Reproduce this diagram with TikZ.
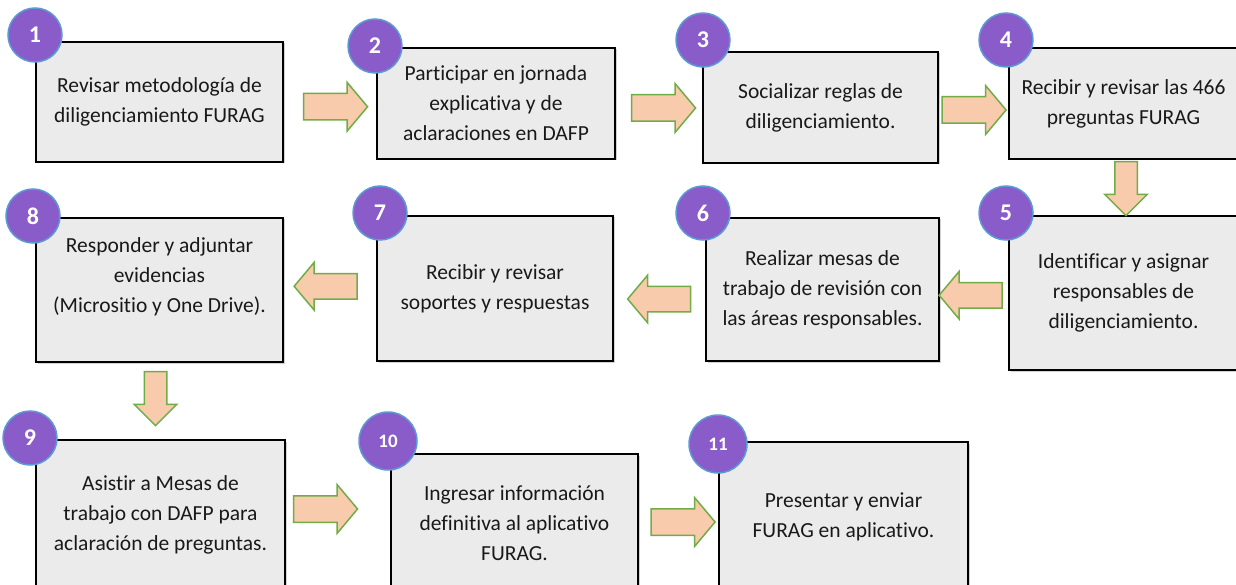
\documentclass[tikz,border=0pt]{standalone}
\usepackage{fontspec}
\setmainfont{Carlito}[Ligatures=NoCommon]
\usepackage{tikz}
\usetikzlibrary{shapes.arrows, shadows, calc}
\definecolor{boxgray}{HTML}{EBEBEB}
\definecolor{numpurple}{HTML}{8A5CC9}
\definecolor{ringblue}{HTML}{5B9BD5}
\definecolor{arrowfill}{HTML}{F8CBAD}
\definecolor{arrowline}{HTML}{70AD47}
\tikzstyle{stepbox} = [rectangle, draw=black, line width=1.2pt, fill=boxgray, align=center, text=black!90, font=\fontsize{21.5}{30}\selectfont, drop shadow={shadow xshift=1.5pt, shadow yshift=-1.5pt, opacity=0.35}]
\tikzstyle{number} = [circle, fill=numpurple, draw=ringblue, line width=1.5pt, text=white, inner sep=0pt, minimum size=54pt, font=\bfseries\fontsize{24}{24}\selectfont]
\tikzstyle{bignumber} = [number, minimum size=58pt, font=\bfseries\fontsize{19}{19}\selectfont]
\tikzstyle{rightarrow} = [single arrow, draw=arrowline, fill=arrowfill, line width=1.5pt, inner xsep=0pt, inner ysep=12.5pt, minimum height=64pt, single arrow head extend=11pt, single arrow tip angle=100]
\tikzstyle{leftarrow} = [rightarrow, shape border rotate=180, inner ysep=12pt, minimum height=63pt]
\tikzstyle{downarrow} = [rightarrow, rotate=-90, inner ysep=10.5pt, minimum height=54pt, single arrow head extend=10pt, single arrow tip angle=90]

\begin{document}
\begin{tikzpicture}[x=1pt, y=-1pt]
\useasboundingbox (0,0) rectangle (1236,585);
\fill[white] (0,0) rectangle (1236,585);
\clip (0,0) rectangle (1236,585);

% Steps
\node (b1) [stepbox, minimum width=247pt, minimum height=120pt] at (159.5,102) {Revisar metodología de\\diligenciamiento FURAG};
\node (b2) [stepbox, minimum width=238pt, minimum height=111pt] at (496,103.5) {Participar en jornada\\explicativa y de\\aclaraciones en DAFP};
\node (b3) [stepbox, minimum width=235pt, minimum height=111pt] at (820.5,107.5) {Socializar reglas de\\diligenciamiento.};
\node (b4) [stepbox, minimum width=229pt, minimum height=111pt] at (1123.5,103.5) {Recibir y revisar las 466\\preguntas FURAG};
\node (b5) [stepbox, minimum width=229pt, minimum height=154pt] at (1123.5,293) {Identificar y asignar\\responsables de\\diligenciamiento.};
\node (b6) [stepbox, minimum width=233pt, minimum height=143pt] at (822.5,289.5) {Realizar mesas de\\trabajo de revisión con\\las áreas responsables.};
\node (b7) [stepbox, minimum width=236pt, minimum height=145pt] at (495,288.5) {Recibir y revisar\\soportes y respuestas};
\node (b8) [stepbox, minimum width=247pt, minimum height=144pt] at (159.5,290) {Responder y adjuntar\\evidencias\\(Micrositio y One Drive).\\\mbox{}};
\node (b9) [stepbox, minimum width=249pt, minimum height=150pt] at (160.5,515) {Asistir a Mesas de\\trabajo con DAFP para\\aclaración de preguntas.};
\node (b10) [stepbox, minimum width=247pt, minimum height=138pt] at (514.5,523) {Ingresar información\\definitiva al aplicativo\\FURAG.};
\node (b11) [stepbox, minimum width=249pt, minimum height=150pt] at (843.5,517) {Presentar y enviar\\FURAG en aplicativo.};

% Numbers
\node (n1) [number] at (35,35) {1};
\node (n2) [number] at (375,46) {2};
\node (n3) [number] at (703,40) {3};
\node (n4) [number] at (1006,40) {4};
\node (n5) [number] at (1006,213) {5};
\node (n6) [number] at (703,213) {6};
\node (n7) [number] at (380,213) {7};
\node (n8) [number] at (33,216) {8};
\node (n9) [number] at (30,438) {9};
\node (n10) [bignumber] at (388,441) {10};
\node (n11) [bignumber] at (718,444) {11};

% Block arrows between the steps
\node (a12) [rightarrow, yshift=-4pt] at ($(b1.east)!0.5!(b2.west)$) {};
\node (a23) [rightarrow, xshift=-1pt, yshift=-2.5pt] at ($(b2.east)!0.5!(b3.west)$) {};
\node (a34) [rightarrow, xshift=-5pt, yshift=-4.5pt] at ($(b3.east)!0.5!(b4.west)$) {};
\node (a45) [xshift=2.5pt, yshift=4.5pt, downarrow] at ($(b4.south)!0.5!(b5.north)$) {};
\node (a56) [leftarrow, xshift=2pt, yshift=-4pt] at ($(b5.west)!0.5!(b6.east)$) {};
\node (a67) [leftarrow, xshift=5pt, yshift=-10pt] at ($(b6.west)!0.5!(b7.east)$) {};
\node (a78) [leftarrow, xshift=1pt, yshift=3pt] at ($(b7.west)!0.5!(b8.east)$) {};
\node (a89) [xshift=-4.5pt, yshift=8pt, downarrow] at ($(b8.south)!0.5!(b9.north)$) {};
\node (a910) [rightarrow, xshift=-18pt, yshift=10pt] at ($(b9.east)!0.5!(b10.west)$) {};
\node (a1011) [rightarrow, xshift=-1pt, yshift=-2pt] at ($(b10.east)!0.5!(b11.west)$) {};

\end{tikzpicture}
\end{document}
